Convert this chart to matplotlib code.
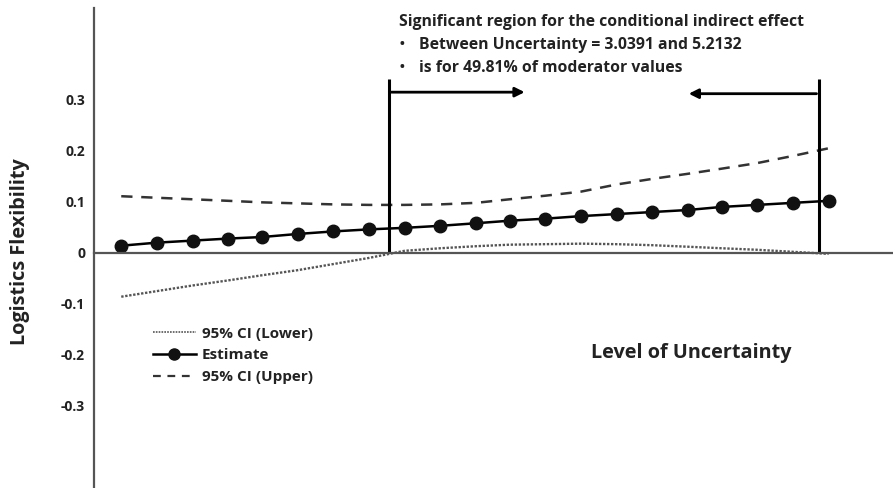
import matplotlib.pyplot as plt
from matplotlib.lines import Line2D

plt.rcParams['font.family'] = ['Open Sans', 'DejaVu Sans']

# Moderator values (level of uncertainty) at which the effect was evaluated
uncertainty = [1.69, 1.87, 2.05, 2.23, 2.40, 2.58, 2.76, 2.94, 3.12, 3.30, 3.48,
               3.65, 3.83, 4.01, 4.19, 4.37, 4.55, 4.72, 4.90, 5.08, 5.26]

# Conditional indirect effect on logistics flexibility
estimate = [0.014, 0.020, 0.024, 0.028, 0.031, 0.037, 0.042, 0.046, 0.049, 0.053, 0.058,
            0.063, 0.067, 0.072, 0.076, 0.080, 0.084, 0.090, 0.094, 0.098, 0.102]
ci_lower = [-0.086, -0.075, -0.064, -0.054, -0.044, -0.034, -0.022, -0.010, 0.004, 0.009, 0.013,
            0.016, 0.017, 0.018, 0.017, 0.015, 0.012, 0.009, 0.006, 0.002, -0.002]
ci_upper = [0.111, 0.108, 0.105, 0.102, 0.099, 0.097, 0.095, 0.094, 0.094, 0.095, 0.098,
            0.105, 0.112, 0.120, 0.134, 0.145, 0.155, 0.165, 0.176, 0.190, 0.205]

# Johnson-Neyman bounds of the significant region
jn_low = 3.0391
jn_high = 5.2132

y_ticks = [0.3, 0.2, 0.1, 0, -0.1, -0.2, -0.3]
y_tick_labels = ['0.3', '0.2', '0.1', '0', '-0.1', '-0.2', '-0.3']

fig = plt.figure(figsize=(8.93, 4.88), dpi=100)
ax = fig.add_axes([93.5 / 893, 0.0, 1 - 93.5 / 893, 480 / 488])

axis_color = '#555555'
text_color = '#222222'
ax.plot(uncertainty, ci_lower, linestyle=(0, (1, 0.7)), color='#555555', lw=1.7)
ax.plot(uncertainty, ci_upper, linestyle=(0, (4.5, 3.5)), color='#333333', lw=1.8)
ax.plot(uncertainty, estimate, color='black', lw=1.8, marker='o', markersize=9,
        markerfacecolor='#111111', markeredgecolor='#111111')

# Region boundaries with inward arrows
for xv in (jn_low, jn_high):
    ax.plot([xv, xv], [0, 0.34], color='black', lw=2.2, solid_capstyle='butt')
ax.annotate('', xy=(3.74, 0.315), xytext=(jn_low, 0.315),
            arrowprops=dict(arrowstyle='-|>', color='black', lw=2.0, mutation_scale=14))
ax.annotate('', xy=(4.54, 0.312), xytext=(jn_high, 0.312),
            arrowprops=dict(arrowstyle='-|>', color='black', lw=2.0, mutation_scale=14))

ax.set_xlim(1.55, 5.585)
ax.set_ylim(-0.461, 0.480)

for side in ('top', 'right'):
    ax.spines[side].set_visible(False)
ax.spines['left'].set_color(axis_color)
ax.spines['left'].set_linewidth(1.6)
ax.spines['bottom'].set_position(('data', 0))
ax.spines['bottom'].set_color(axis_color)
ax.spines['bottom'].set_linewidth(1.6)
ax.set_xticks([])
ax.set_yticks(y_ticks)
ax.set_yticklabels(y_tick_labels, fontsize=10, fontweight='bold', color=text_color)
ax.tick_params(axis='y', length=0, pad=6)

fig.text(0.022, 1 - 252 / 488, 'Logistics Flexibility', rotation=90, ha='center', va='center',
         fontsize=14.3, fontweight='bold', color=text_color)

ax.text(4.565, -0.197, 'Level of Uncertainty', ha='center', va='center',
        fontsize=14.3, fontweight='bold', color=text_color)

ax.text(3.09, 0.453, 'Significant region for the conditional indirect effect',
        ha='left', va='center', fontsize=11.3, fontweight='bold', color=text_color)
ax.text(3.09, 0.408, '\u2022', ha='left', va='center', fontsize=13, color=text_color)
ax.text(3.195, 0.408, 'Between Uncertainty = 3.0391 and 5.2132',
        ha='left', va='center', fontsize=11.3, fontweight='bold', color=text_color)
ax.text(3.09, 0.363, '\u2022', ha='left', va='center', fontsize=13, color=text_color)
ax.text(3.195, 0.363, 'is for 49.81% of moderator values',
        ha='left', va='center', fontsize=11.3, fontweight='bold', color=text_color)

handles = [
    Line2D([], [], linestyle=(0, (1, 0.7)), color='#555555', lw=1.2),
    Line2D([], [], color='black', lw=1.8, marker='o', markersize=8,
           markerfacecolor='#111111', markeredgecolor='#111111'),
    Line2D([], [], linestyle=(0, (3.5, 3)), color='#333333', lw=1.6),
]
ax.legend(handles, ['95% CI (Lower)', 'Estimate', '95% CI (Upper)'],
          loc='upper left', bbox_to_anchor=((139 - 93.5) / 799.5, (480 - 305) / 480),
          frameon=False, handlelength=2.8, handletextpad=0.4, labelspacing=0.5,
          prop={'size': 11, 'weight': 'bold'}, labelcolor=text_color)

fig.savefig('out.png', dpi=100, facecolor='white')
